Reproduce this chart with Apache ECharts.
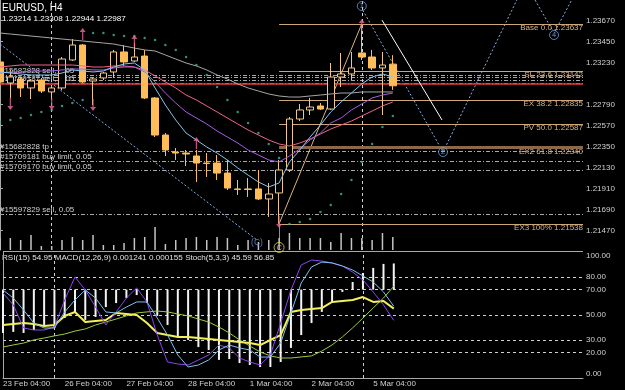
<!DOCTYPE html>
<html>
<head>
<meta charset="utf-8">
<title>EURUSD H4</title>
<script src="https://cdn.jsdelivr.net/npm/echarts@6/dist/echarts.min.js"></script>
<style>
html, body { margin: 0; padding: 0; background: #000; }
#chart { width: 625px; height: 390px; }
</style>
</head>
<body>
<div id="chart"></div>
<script>
// bar 0 = 23 Feb 04:00, one bar every 4 hours, last bar = 5 Mar 12:00
var timeLabels = ['23 Feb 04:00', '26 Feb 04:00', '27 Feb 04:00', '28 Feb 04:00', '1 Mar 04:00', '2 Mar 04:00', '5 Mar 04:00'];
var timeLabelBars = [0, 6, 12, 18, 24, 30, 36];
var weekStartBars = [5, 35];

// open, close, low, high
var candles = [
  [1.23237, 1.23027, 1.23006, 1.23258], [1.23016, 1.23079, 1.22859, 1.23153],
  [1.23058, 1.22964, 1.22869, 1.23079], [1.22964, 1.23037, 1.22848, 1.23058],
  [1.23048, 1.22932, 1.22911, 1.23069], [1.22922, 1.22964, 1.22838, 1.22985],
  [1.22964, 1.23268, 1.22943, 1.23289], [1.23258, 1.23415, 1.23247, 1.23478],
  [1.23415, 1.23027, 1.23016, 1.23425], [1.23037, 1.23058, 1.22785, 1.23069],
  [1.23069, 1.23121, 1.23048, 1.23132], [1.23132, 1.23342, 1.23069, 1.23363],
  [1.23342, 1.23237, 1.23195, 1.23415], [1.23247, 1.23289, 1.23237, 1.23436],
  [1.23299, 1.22859, 1.22848, 1.23363], [1.22859, 1.22470, 1.22449, 1.22869],
  [1.22470, 1.22313, 1.22250, 1.22491], [1.22292, 1.22281, 1.22208, 1.22334],
  [1.22281, 1.22271, 1.22145, 1.22313], [1.22250, 1.22176, 1.21977, 1.22313],
  [1.22176, 1.22171, 1.22030, 1.22281], [1.22176, 1.22071, 1.21998, 1.22260],
  [1.22071, 1.21914, 1.21893, 1.22208], [1.21904, 1.21899, 1.21841, 1.21998],
  [1.21904, 1.21899, 1.21820, 1.22019], [1.21904, 1.21799, 1.21788, 1.22103],
  [1.21799, 1.21851, 1.21610, 1.21967], [1.21862, 1.22103, 1.21538, 1.22208],
  [1.22103, 1.22638, 1.22082, 1.22659], [1.22638, 1.22733, 1.22617, 1.22796],
  [1.22733, 1.22764, 1.22680, 1.22859], [1.22775, 1.22743, 1.22733, 1.22806],
  [1.22743, 1.23079, 1.22733, 1.23226], [1.23079, 1.23111, 1.22974, 1.23331],
  [1.23111, 1.23174, 1.23048, 1.23342], [1.23331, 1.23289, 1.23258, 1.23637],
  [1.23289, 1.23174, 1.23153, 1.23363], [1.23174, 1.23205, 1.22680, 1.23342],
  [1.23214, 1.22987, 1.22944, 1.23308]
];
var volumes = [2400, 2400, 2000, 3000, 800, 800, 2000, 2600, 2000, 3000, 1000, 1000, 1400, 2400, 2600, 4600,
  1200, 2000, 2400, 2600, 2000, 2600, 2400, 1000, 2000, 1600, 2000, 2400, 3400, 2400, 2400, 2400, 1600, 3400,
  2400, 2400, 2000, 3400, 2600];

var maGray = [1.23541, 1.23530, 1.23520, 1.23509, 1.23499, 1.23488, 1.23478, 1.23467, 1.23457, 1.23446,
  1.23436, 1.23425, 1.23404, 1.23383, 1.23363, 1.23352, 1.23310, 1.23268, 1.23226, 1.23195, 1.23153, 1.23100,
  1.23058, 1.23006, 1.22964, 1.22932, 1.22901, 1.22880, 1.22869, 1.22869, 1.22880, 1.22890, 1.22901, 1.22911,
  1.22911, 1.22922, 1.22922, 1.22922, 1.22922];
var maPink = [1.23184, 1.23195, 1.23205, 1.23205, 1.23205, 1.23205, 1.23205, 1.23205, 1.23195, 1.23184,
  1.23184, 1.23195, 1.23195, 1.23184, 1.23153, 1.23090, 1.23027, 1.22964, 1.22890, 1.22838, 1.22775, 1.22712,
  1.22649, 1.22586, 1.22523, 1.22470, 1.22418, 1.22376, 1.22355, 1.22386, 1.22428, 1.22481, 1.22533, 1.22575,
  1.22617, 1.22670, 1.22722, 1.22775, 1.22817];
var maViolet = [1.23121, 1.23132, 1.23132, 1.23142, 1.23142, 1.23142, 1.23153, 1.23163, 1.23163, 1.23153,
  1.23153, 1.23174, 1.23184, 1.23184, 1.23132, 1.23027, 1.22911, 1.22806, 1.22712, 1.22649, 1.22586, 1.22512,
  1.22449, 1.22386, 1.22313, 1.22260, 1.22208, 1.22187, 1.22250, 1.22323, 1.22418, 1.22491, 1.22596, 1.22649,
  1.22733, 1.22796, 1.22859, 1.22890, 1.22911];
var maBlue = [1.23132, 1.23121, 1.23111, 1.23100, 1.23100, 1.23100, 1.23121, 1.23153, 1.23142, 1.23132,
  1.23142, 1.23184, 1.23216, 1.23226, 1.23153, 1.22964, 1.22785, 1.22628, 1.22491, 1.22418, 1.22344, 1.22281,
  1.22208, 1.22124, 1.22050, 1.21977, 1.21925, 1.21967, 1.22187, 1.22313, 1.22449, 1.22575, 1.22712, 1.22817,
  1.22911, 1.23006, 1.23079, 1.23111, 1.23079];
var sar = [1.22607, 1.22628, 1.22649, 1.22680, 1.22712, 1.22733, 1.22775, 1.22806, 1.22838, 1.23541, 1.23541,
  1.23520, 1.23509, 1.23509, 1.23488, 1.23467, 1.23415, 1.23363, 1.23289, 1.23205, 1.23100, 1.22975, 1.22838,
  1.22712, 1.22596, 1.22491, 1.22376, 1.22229, 1.21536, 1.21557, 1.21589, 1.21662, 1.21736, 1.21851, 1.21998,
  1.22187, 1.22376, 1.22554, 1.22670];

// fractal style arrows: [bar, price]
var upArrows = [[8, 1.23530], [13, 1.23457], [19, 1.22386], [35, 1.23625]];
var downArrows = [[1, 1.22796], [5, 1.22796], [9, 1.22785], [27, 1.21557]];

var rsi = [42.0, 42.8, 43.5, 42.8, 41.2, 42.0, 49.1, 52.3, 44.3, 45.1, 45.9, 51.5, 50.7, 49.9, 43.5, 35.6, 34.0,
  32.5, 32.5, 31.7, 30.9, 30.1, 29.3, 28.5, 27.7, 26.1, 30.1, 34.0, 52.3, 53.8, 54.6, 55.4, 60.2, 61.0, 61.8,
  64.1, 60.2, 61.0, 54.95];
var stochMain = [67.3, 57.8, 39.6, 38.0, 38.0, 40.4, 61.8, 80.0, 69.7, 56.2, 42.0, 52.3, 63.3, 71.3, 60.2, 34.0,
  12.7, 11.1, 10.3, 14.3, 18.2, 26.1, 23.8, 15.8, 12.7, 10.3, 18.2, 43.5, 69.7, 89.5, 93.4, 92.6, 91.1, 88.7,
  83.9, 77.6, 68.1, 57.8, 45.59];
var stochSignal = [69.7, 63.3, 53.8, 43.5, 39.6, 39.6, 52.3, 61.8, 69.7, 63.3, 52.3, 51.5, 56.2, 60.2, 60.2,
  47.5, 34.0, 18.2, 8.7, 10.3, 14.3, 22.2, 26.1, 23.8, 22.2, 16.6, 16.6, 27.7, 51.5, 75.2, 87.9, 91.8, 91.1,
  88.7, 85.5, 80.8, 76.0, 68.1, 56.85];
var macdMain = [-0.00206, -0.00201, -0.00206, -0.00192, -0.00168, -0.00182, -0.00135, -0.00111, -0.00144,
  -0.00130, -0.00083, -0.00064, -0.00040, -0.00026, -0.00064, -0.00125, -0.00168, -0.00225, -0.00239, -0.00273,
  -0.00287, -0.00334, -0.00330, -0.00349, -0.00358, -0.00368, -0.00368, -0.00344, -0.00277, -0.00216, -0.00159,
  -0.00106, -0.00059, -0.00011, 0.00036, 0.00079, 0.00103, 0.00122, 0.001241];
var macdSignal = [-0.00273, -0.00263, -0.00254, -0.00239, -0.00230, -0.00220, -0.00211, -0.00197, -0.00187,
  -0.00168, -0.00154, -0.00140, -0.00125, -0.00111, -0.00106, -0.00102, -0.00106, -0.00116, -0.00125, -0.00140,
  -0.00154, -0.00178, -0.00206, -0.00239, -0.00268, -0.00296, -0.00315, -0.00325, -0.00325, -0.00320, -0.00315,
  -0.00292, -0.00263, -0.00225, -0.00182, -0.00135, -0.00087, -0.00040, 0.000155];

var fibNames = ['Base 0.0', 'SL 23.6', 'EX 38.2', 'PV 50.0', 'EX2 61.8', 'EX3 100%'];
var fibPrices = [1.23637, 1.23142, 1.22835, 1.22587, 1.22340, 1.21538];
var fibStartBar = 27;

var orderNames = ['#15682828 sell, 0.05', '#15709187 sell, 0.05', '#15682828 tp',
  '#15709181 buy limit, 0.05', '#15709170 buy limit, 0.05', '#15597829 sell, 0.05'];
var orderPrices = [1.23100, 1.23016, 1.22302, 1.22197, 1.22096, 1.21641];
var extraLevels = [1.23074, 1.23048];
var askPrice = 1.23006;
var bidPrice = 1.22987;

// wave markup: [bar, price] pairs
var waveLines = [
  [[0, 1.23425], [24.86, 1.21368]],
  [[35.1, 1.23780], [42.86, 1.22292]],
  [[42.86, 1.22292], [50.0, 1.23887]],
  [[51.76, 1.23887], [53.5, 1.23560]],
  [[53.7, 1.23560], [55.3, 1.23887]]
];
var waveMarks = [['1', 35, 1.23824], ['2', 42.86, 1.22292], ['4', 53.6, 1.23520]];
var trendLine = [[27, 1.21538], [35, 1.23637]];
var arrowLine = [[36.95, 1.23677], [42.76, 1.22628]];

var priceTicks = [1.21470, 1.21690, 1.21910, 1.22130, 1.22350, 1.22570, 1.22790, 1.23230, 1.23450, 1.23670];
var levelTicks = [0, 20, 30, 50, 70, 80, 100];

var X_MAX = 56.4;
var FONT = '"Liberation Sans", Arial, sans-serif';
var FS = 8;
var TEXT = '#d0d0d0';

function indexed(arr) {
  return arr.map(function (v, i) { return [i, v]; });
}

var chart = echarts.init(document.getElementById('chart'));

var objLines = [];
orderNames.forEach(function (n, k) {
  objLines.push({
    yAxis: orderPrices[k], name: n,
    lineStyle: { color: '#a8a8a8', width: 1, type: [4, 2, 1, 2] },
    label: { show: true, position: 'insideStartTop', distance: 0, formatter: '{b}', color: TEXT,
      fontSize: FS, fontFamily: FONT }
  });
});
extraLevels.forEach(function (p) {
  objLines.push({ yAxis: p, lineStyle: { color: '#a8a8a8', width: 1, type: [4, 2, 1, 2] }, label: { show: false } });
});
weekStartBars.forEach(function (b) {
  objLines.push({ xAxis: b, lineStyle: { color: '#d0d0d0', width: 1, type: [3, 3] }, label: { show: false } });
});
waveLines.forEach(function (w) {
  objLines.push([{ coord: w[0], lineStyle: { color: '#86aee6', width: 1, type: [2, 2] }, label: { show: false } },
    { coord: w[1] }]);
});
objLines.push([{ coord: trendLine[0], lineStyle: { color: '#d8b486', width: 1, type: 'solid' }, label: { show: false } },
  { coord: trendLine[1] }]);
objLines.push([{ coord: [27, 1.21538], lineStyle: { color: '#909090', width: 1, type: 'solid' }, label: { show: false } },
  { coord: [27, 1.21340] }]);
objLines.push({ yAxis: askPrice, lineStyle: { color: '#e8383c', width: 1.5, type: 'solid' }, label: { show: false } });

// fibo levels live in their own series so their captions sit above the order lines
var fibLines = [];
fibPrices.forEach(function (p, k) {
  var thick = fibNames[k].indexOf('EX2') === 0;
  fibLines.push([{
    coord: [fibStartBar, p], name: fibNames[k] + ' ' + p.toFixed(5),
    lineStyle: { color: thick ? '#8a6848' : '#cfa878', width: thick ? 3 : 1, type: 'solid' },
    label: { show: true, position: 'insideEndBottom', distance: 0, formatter: '{b}', color: '#d8b486',
      fontSize: FS, fontFamily: FONT }
  }, { coord: [X_MAX, p] }]);
});
fibLines.push({
  yAxis: bidPrice, lineStyle: { opacity: 0 },
  label: { show: true, position: 'end', distance: 2, formatter: bidPrice.toFixed(5), color: '#ffffff',
    backgroundColor: '#8c929c', padding: [1, 2, 0, 2], fontSize: FS, fontFamily: FONT }
});

var option = {
  animation: false,
  backgroundColor: '#000000',
  grid: [
    { left: 0, top: 0, width: 583, height: 250 },
    { left: 0, top: 251.7, width: 583, height: 126.3 }
  ],
  xAxis: [
    { type: 'value', gridIndex: 0, min: 0, max: X_MAX, show: false },
    {
      type: 'value', gridIndex: 1, min: 0, max: X_MAX,
      axisLine: { show: true, lineStyle: { color: '#a8a8a8' } },
      axisTick: { show: false },
      splitLine: { show: false },
      axisLabel: {
        customValues: timeLabelBars, align: 'left', margin: 2, color: TEXT, fontSize: FS, fontFamily: FONT,
        formatter: function (v) {
          var k = timeLabelBars.indexOf(Math.round(v));
          return k >= 0 ? timeLabels[k] : '';
        }
      }
    }
  ],
  yAxis: [
    {
      type: 'value', gridIndex: 0, position: 'right', min: 1.212633, max: 1.238873,
      axisLine: { show: true, lineStyle: { color: '#a8a8a8' } },
      axisTick: { show: true, length: 3, customValues: priceTicks, lineStyle: { color: '#a8a8a8' } },
      splitLine: { show: false },
      axisLabel: { customValues: priceTicks, margin: 3, color: TEXT, fontSize: FS, fontFamily: FONT,
        formatter: function (v) { return v.toFixed(5); } }
    },
    { type: 'value', gridIndex: 0, min: 0, max: 50000, show: false },
    {
      type: 'value', gridIndex: 1, position: 'right', min: 0, max: 100,
      axisLine: { show: true, lineStyle: { color: '#a8a8a8' } },
      axisTick: { show: true, length: 3, customValues: levelTicks, lineStyle: { color: '#a8a8a8' } },
      splitLine: { show: false },
      axisLabel: { customValues: levelTicks, margin: 3, color: TEXT, fontSize: FS, fontFamily: FONT,
        verticalAlignMaxLabel: 'top', verticalAlignMinLabel: 'bottom',
        formatter: function (v) { return v.toFixed(2); } }
    },
    { type: 'value', gridIndex: 1, min: -0.0042, max: 0.0018, show: false }
  ],
  graphic: [
    { type: 'text', left: 2, top: 3, style: { text: 'EURUSD, H4', fill: '#ffffff', fontSize: 10, fontFamily: FONT } },
    { type: 'text', left: 2, top: 15, style: { text: '1.23214 1.23308 1.22944 1.22987', fill: '#ffffff', fontSize: 8.1, fontFamily: FONT } },
    { type: 'text', left: 2, top: 254, style: { text: 'RSI(15) 54.95 MACD(12,26,9) 0.001241 0.000155 Stoch(5,3,3) 45.59 56.85',
      fill: '#e0e0e0', fontSize: 8.1, fontFamily: FONT } }
  ],
  series: [
    {
      name: 'objects', type: 'line', xAxisIndex: 0, yAxisIndex: 0, data: [], z: 1, silent: true,
      markLine: { silent: true, precision: 5, symbol: ['none', 'none'], z: 1, animation: false, data: objLines }
    },
    {
      name: 'fibo', type: 'line', xAxisIndex: 0, yAxisIndex: 0, data: [], z: 2, silent: true,
      markLine: { silent: true, precision: 5, symbol: ['none', 'none'], z: 2, animation: false, data: fibLines }
    },
    {
      name: 'arrow', type: 'line', xAxisIndex: 0, yAxisIndex: 0, data: [], z: 2, silent: true,
      markLine: { silent: true, precision: 5, symbol: ['none', 'arrow'], symbolSize: [0, 9], z: 2, animation: false,
        data: [[{ coord: arrowLine[0], lineStyle: { color: '#ffffff', width: 1, type: 'solid' }, label: { show: false } },
          { coord: arrowLine[1] }]] }
    },
    {
      name: 'volume', type: 'bar', xAxisIndex: 0, yAxisIndex: 1, data: indexed(volumes), barWidth: 1.5,
      itemStyle: { color: '#c4c4c4' }, z: 1, silent: true
    },
    {
      name: 'EURUSD', type: 'candlestick', xAxisIndex: 0, yAxisIndex: 0, z: 3, barWidth: 7,
      data: candles.map(function (c, i) { return [i, c[0], c[1], c[2], c[3]]; }),
      encode: { x: 0, y: [1, 2, 3, 4] },
      itemStyle: { color: '#000000', color0: '#ffbd5a', borderColor: '#efc68e', borderColor0: '#ffbd5a', borderWidth: 1 }
    },
    { name: 'MA gray', type: 'line', data: indexed(maGray), symbol: 'none', z: 4, lineStyle: { color: '#a6a6a6', width: 1 } },
    { name: 'MA pink', type: 'line', data: indexed(maPink), symbol: 'none', z: 4, lineStyle: { color: '#f0648c', width: 1 } },
    { name: 'MA violet', type: 'line', data: indexed(maViolet), symbol: 'none', z: 4, lineStyle: { color: '#a45ee8', width: 1 } },
    { name: 'MA blue', type: 'line', data: indexed(maBlue), symbol: 'none', z: 4, lineStyle: { color: '#86c6ee', width: 1 } },
    {
      name: 'SAR', type: 'scatter', data: indexed(sar), symbol: 'circle', symbolSize: 2.5, z: 5,
      itemStyle: { color: '#3fb49c' }
    },
    {
      name: 'up', type: 'scatter', data: upArrows, z: 5, symbolSize: [6, 12],
      symbol: 'path://M3,0 L6,4 L3.6,4 L3.6,12 L2.4,12 L2.4,4 L0,4 Z', itemStyle: { color: '#ee6aa0' }
    },
    {
      name: 'down', type: 'scatter', data: downArrows, z: 5, symbolSize: [6, 12], symbolRotate: 180,
      symbol: 'path://M3,0 L6,4 L3.6,4 L3.6,12 L2.4,12 L2.4,4 L0,4 Z', itemStyle: { color: '#ee6aa0' }
    },
    {
      name: 'waves', type: 'scatter', z: 6, symbol: 'circle', symbolSize: 9,
      data: waveMarks.map(function (w) { return { name: w[0], value: [w[1], w[2]] }; }),
      itemStyle: { color: 'rgba(0,0,0,0)', borderColor: '#6f9ee0', borderWidth: 1 },
      label: { show: true, position: 'inside', formatter: '{b}', color: '#8ab4ee', fontSize: 7.5, fontFamily: FONT }
    },
    {
      name: 'waveC', type: 'scatter', z: 6, symbolSize: 0,
      data: [{ name: '(C)', value: [24.86, 1.21337] }],
      label: { show: true, position: 'inside', formatter: '{b}', color: '#6f9ee0', fontSize: 8.5, fontFamily: FONT }
    },
    {
      name: 'waveCy', type: 'scatter', z: 6, symbol: 'circle', symbolSize: 10,
      data: [{ name: 'C', value: [27, 1.21290] }],
      itemStyle: { color: 'rgba(0,0,0,0)', borderColor: '#e6d84a', borderWidth: 1 },
      label: { show: true, position: 'inside', formatter: '{b}', color: '#e6d84a', fontSize: 7.5, fontFamily: FONT }
    },
    {
      name: 'MACD', type: 'bar', xAxisIndex: 1, yAxisIndex: 3, data: indexed(macdMain), barWidth: 2,
      itemStyle: { color: '#f4f4f4' }, z: 2
    },
    {
      name: 'MACD signal', type: 'line', xAxisIndex: 1, yAxisIndex: 3, data: indexed(macdSignal), symbol: 'none', z: 3,
      lineStyle: { color: '#9ccc3c', width: 1 }
    },
    {
      name: 'RSI', type: 'line', xAxisIndex: 1, yAxisIndex: 2, data: indexed(rsi), symbol: 'none', z: 4,
      lineStyle: { color: '#f4f05a', width: 2 },
      markLine: {
        silent: true, symbol: ['none', 'none'], z: 1, animation: false, label: { show: false },
        data: [
          { yAxis: 80, lineStyle: { color: '#d0d0d0', type: [3, 3], width: 1 } },
          { yAxis: 70, lineStyle: { color: '#d0d0d0', type: [3, 3], width: 1 } },
          { yAxis: 50, lineStyle: { color: '#d0d0d0', type: [3, 3], width: 1 } },
          { yAxis: 30, lineStyle: { color: '#d0d0d0', type: [3, 3], width: 1 } },
          { yAxis: 20, lineStyle: { color: '#d0d0d0', type: [3, 3], width: 1 } },
          { yAxis: 100, lineStyle: { color: '#a8a8a8', type: 'solid', width: 1 } },
          { xAxis: weekStartBars[0], lineStyle: { color: '#d0d0d0', type: [3, 3], width: 1 } },
          { xAxis: weekStartBars[1], lineStyle: { color: '#d0d0d0', type: [3, 3], width: 1 } }
        ]
      }
    },
    {
      name: 'Stoch main', type: 'line', xAxisIndex: 1, yAxisIndex: 2, data: indexed(stochMain), symbol: 'none', z: 4,
      lineStyle: { color: '#8a46ec', width: 1 }
    },
    {
      name: 'Stoch signal', type: 'line', xAxisIndex: 1, yAxisIndex: 2, data: indexed(stochSignal), symbol: 'none', z: 4,
      lineStyle: { color: '#7fbfee', width: 1 }
    }
  ]
};
chart.setOption(option);
</script>
</body>
</html>
